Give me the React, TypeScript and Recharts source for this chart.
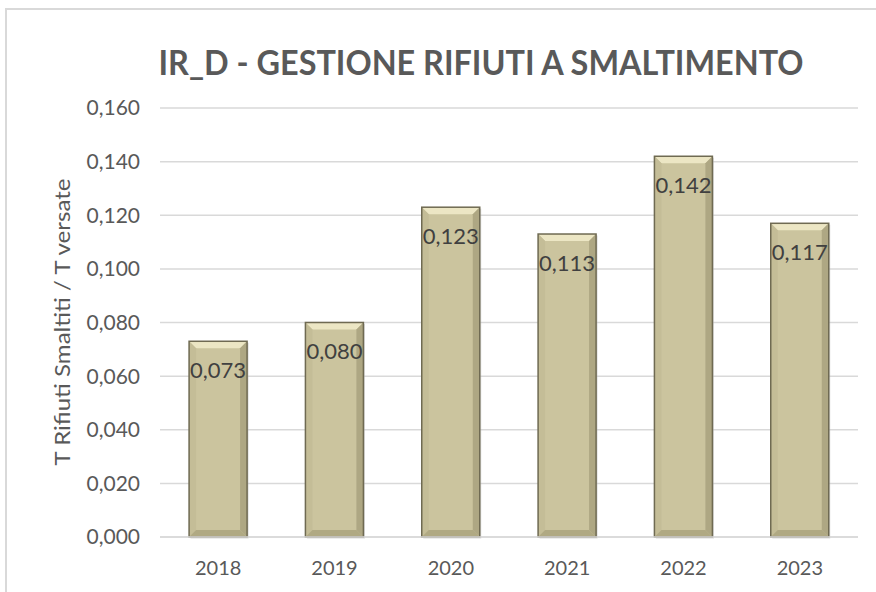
import React from 'react';
import { BarChart, Bar, XAxis, YAxis, CartesianGrid, LabelList } from 'recharts';

const years: string[] = ['2018', '2019', '2020', '2021', '2022', '2023'];
const ratios: number[] = [0.073, 0.08, 0.123, 0.113, 0.142, 0.117];
const yTicks: number[] = [0, 0.02, 0.04, 0.06, 0.08, 0.1, 0.12, 0.14, 0.16];

const data = years.map((year, i) => ({ year, value: ratios[i] }));

const fmt = (v: number) => v.toFixed(3).replace('.', ',');
const FONT = 'Lato, "Open Sans", sans-serif';

// bevelled bar like the Excel preset
const BevelBar = (props: any) => {
  const { x, y, width, height } = props;
  if (!height || height <= 0) return null;
  const b = 7;
  return (
    <g>
      <rect x={x + 1.5} y={y + 1.5} width={width} height={height} fill="#b9b9b9" opacity={0.5} />
      <rect x={x} y={y} width={width} height={height} fill="#cbc49e" />
      <polygon points={`${x},${y} ${x + width},${y} ${x + width - b},${y + b} ${x + b},${y + b}`} fill="#ece6c4" />
      <polygon points={`${x},${y} ${x + b},${y + b} ${x + b},${y + height - b} ${x},${y + height}`} fill="#c4bd97" />
      <polygon points={`${x + width},${y} ${x + width - b},${y + b} ${x + width - b},${y + height - b} ${x + width},${y + height}`} fill="#aea783" />
      <polygon points={`${x},${y + height} ${x + b},${y + height - b} ${x + width - b},${y + height - b} ${x + width},${y + height}`} fill="#b0a983" />
      <rect x={x} y={y} width={width} height={height} fill="none" stroke="#6f6a52" strokeWidth={1.5} />
    </g>
  );
};

const App: React.FC = () => {
  return (
    <div style={{ position: 'fixed', left: 0, top: 0, width: 876, height: 592, background: '#fff', overflow: 'hidden' }}>
      <div style={{ position: 'absolute', left: 5, top: 8, width: 1000, height: 800, border: '2px solid #d9d9d9' }} />
      <svg width={876} height={100} style={{ position: 'absolute', left: 0, top: 0 }}>
        <text x={481} y={75} textAnchor="middle" textLength={645} lengthAdjust="spacingAndGlyphs"
          fontFamily={FONT} fontWeight={700} fontSize={34} fill="#595959">
          IR_D - GESTIONE RIFIUTI A SMALTIMENTO
        </text>
      </svg>
      <div style={{ position: 'absolute', left: 0, top: 0 }}>
        <BarChart width={876} height={592} data={data} barCategoryGap="25%"
          margin={{ top: 108, right: 18, bottom: 0, left: 60 }}>
          <CartesianGrid vertical={false} stroke="#d9d9d9" strokeWidth={1.5} />
          <XAxis dataKey="year" height={55} tickLine={false} axisLine={{ stroke: '#d9d9d9', strokeWidth: 1.5 }}
            tickMargin={18} tick={{ fill: '#595959', fontSize: 20, fontFamily: FONT }} />
          <YAxis width={100} domain={[0, 0.16]} ticks={yTicks} tickFormatter={fmt} axisLine={false} tickLine={false}
            tickMargin={14} tick={{ fill: '#595959', fontSize: 21, fontFamily: FONT }}
            label={{
              content: () => (
                <text x={70} y={322} transform="rotate(-90 70 322)" textAnchor="middle"
                  textLength={287} lengthAdjust="spacingAndGlyphs"
                  fontFamily={FONT} fontSize={22} fill="#595959">
                  T Rifiuti Smaltiti / T versate
                </text>
              ),
            }} />
          <Bar dataKey="value" shape={BevelBar} isAnimationActive={false}>
            <LabelList dataKey="value" position="insideTop" offset={21} formatter={(v: any) => fmt(Number(v))}
              fill="#404040" fontSize={22} fontFamily={FONT} />
          </Bar>
        </BarChart>
      </div>
    </div>
  );
};

export default App;
